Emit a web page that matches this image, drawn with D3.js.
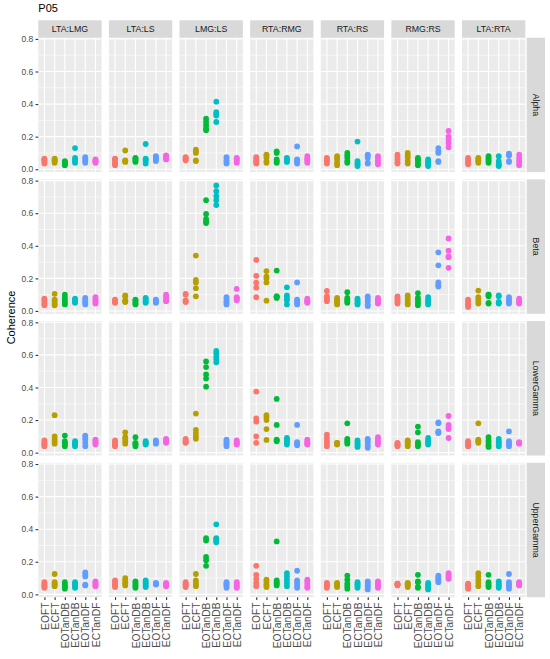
<!DOCTYPE html>
<html>
<head>
<meta charset="utf-8">
<script src="https://cdn.jsdelivr.net/npm/d3@7"></script>
<style>
  body { margin: 0; background: #fff; }
  svg { display: block; font-family: "Liberation Sans", Arial, sans-serif; }
</style>
</head>
<body>
<div id="chart"></div>
<script>
const categories = ["EOFT", "ECFT", "EOTanDB", "ECTanDB", "EOTanDF", "ECTanDF"];
const pairs = ["LTA:LMG", "LTA:LS", "LMG:LS", "RTA:RMG", "RTA:RS", "RMG:RS", "LTA:RTA"];
const bands = ["Alpha", "Beta", "LowerGamma", "UpperGamma"];
const yTicks = [0, 0.2, 0.4, 0.6, 0.8];

// one entry per pair, inside it one list of trial values per category
const alpha = [
  [[0.035, 0.045, 0.055, 0.06, 0.065], [0.04, 0.05, 0.055, 0.06, 0.065], [0.025, 0.03, 0.04, 0.045, 0.05], [0.04, 0.05, 0.06, 0.07, 0.13], [0.04, 0.05, 0.06, 0.07, 0.075], [0.04, 0.045, 0.05, 0.055, 0.06]],
  [[0.025, 0.035, 0.045, 0.06, 0.065], [0.045, 0.05, 0.05, 0.055, 0.115], [0.045, 0.05, 0.06, 0.065, 0.07], [0.035, 0.05, 0.06, 0.065, 0.155], [0.05, 0.06, 0.07, 0.075, 0.08], [0.06, 0.065, 0.07, 0.08, 0.085]],
  [[0.055, 0.06, 0.065, 0.07, 0.075], [0.05, 0.055, 0.1, 0.11, 0.12], [0.24, 0.25, 0.27, 0.29, 0.31], [0.29, 0.33, 0.34, 0.35, 0.415], [0.035, 0.045, 0.055, 0.07, 0.075], [0.04, 0.05, 0.06, 0.065, 0.07]],
  [[0.035, 0.045, 0.055, 0.065, 0.075], [0.04, 0.05, 0.07, 0.085, 0.09], [0.04, 0.05, 0.06, 0.1, 0.11], [0.045, 0.05, 0.06, 0.065, 0.07], [0.035, 0.045, 0.055, 0.06, 0.14], [0.04, 0.05, 0.06, 0.065, 0.08]],
  [[0.035, 0.045, 0.055, 0.065, 0.07], [0.025, 0.04, 0.06, 0.07, 0.08], [0.04, 0.05, 0.07, 0.085, 0.1], [0.02, 0.03, 0.04, 0.05, 0.17], [0.035, 0.04, 0.07, 0.085, 0.09], [0.03, 0.04, 0.055, 0.07, 0.08]],
  [[0.035, 0.045, 0.06, 0.075, 0.09], [0.035, 0.05, 0.07, 0.085, 0.1], [0.025, 0.035, 0.05, 0.06, 0.07], [0.02, 0.03, 0.04, 0.05, 0.06], [0.045, 0.05, 0.1, 0.11, 0.13], [0.135, 0.16, 0.18, 0.2, 0.235]],
  [[0.03, 0.04, 0.05, 0.06, 0.07], [0.04, 0.05, 0.055, 0.065, 0.07], [0.04, 0.05, 0.06, 0.07, 0.08], [0.02, 0.025, 0.035, 0.05, 0.08], [0.045, 0.05, 0.085, 0.09, 0.095], [0.025, 0.04, 0.055, 0.07, 0.09]],
];

const beta = [
  [[0.035, 0.045, 0.055, 0.065, 0.075], [0.035, 0.045, 0.06, 0.07, 0.105], [0.04, 0.05, 0.065, 0.08, 0.1], [0.05, 0.055, 0.06, 0.07, 0.075], [0.04, 0.05, 0.06, 0.07, 0.08], [0.045, 0.055, 0.065, 0.075, 0.085]],
  [[0.05, 0.055, 0.06, 0.065, 0.07], [0.055, 0.06, 0.065, 0.09, 0.095], [0.04, 0.045, 0.055, 0.065, 0.07], [0.05, 0.055, 0.065, 0.075, 0.08], [0.05, 0.055, 0.06, 0.065, 0.07], [0.06, 0.065, 0.075, 0.09, 0.1]],
  [[0.055, 0.06, 0.065, 0.1, 0.105], [0.09, 0.14, 0.175, 0.19, 0.34], [0.54, 0.55, 0.565, 0.595, 0.68], [0.65, 0.68, 0.705, 0.735, 0.77], [0.04, 0.05, 0.06, 0.075, 0.085], [0.065, 0.075, 0.08, 0.085, 0.135]],
  [[0.084, 0.143, 0.174, 0.215, 0.313], [0.063, 0.175, 0.2, 0.21, 0.245], [0.08, 0.085, 0.09, 0.09, 0.248], [0.04, 0.065, 0.08, 0.095, 0.145], [0.04, 0.05, 0.06, 0.07, 0.175], [0.05, 0.055, 0.06, 0.065, 0.075]],
  [[0.06, 0.07, 0.08, 0.09, 0.123], [0.04, 0.05, 0.06, 0.07, 0.08], [0.05, 0.06, 0.07, 0.08, 0.115], [0.04, 0.045, 0.055, 0.065, 0.075], [0.03, 0.04, 0.06, 0.075, 0.09], [0.045, 0.05, 0.06, 0.07, 0.08]],
  [[0.045, 0.055, 0.065, 0.075, 0.09], [0.04, 0.05, 0.065, 0.08, 0.095], [0.035, 0.05, 0.065, 0.08, 0.11], [0.04, 0.05, 0.06, 0.07, 0.085], [0.15, 0.16, 0.175, 0.28, 0.36], [0.265, 0.33, 0.335, 0.37, 0.445]],
  [[0.025, 0.035, 0.045, 0.06, 0.07], [0.045, 0.06, 0.075, 0.085, 0.125], [0.045, 0.05, 0.09, 0.1, 0.1], [0.045, 0.05, 0.055, 0.09, 0.095], [0.045, 0.055, 0.065, 0.075, 0.085], [0.045, 0.05, 0.06, 0.065, 0.075]],
];

const lowerGamma = [
  [[0.04, 0.05, 0.055, 0.065, 0.075], [0.055, 0.07, 0.085, 0.1, 0.23], [0.04, 0.05, 0.06, 0.07, 0.105], [0.04, 0.05, 0.055, 0.06, 0.07], [0.04, 0.06, 0.08, 0.095, 0.105], [0.05, 0.06, 0.065, 0.075, 0.08]],
  [[0.04, 0.045, 0.055, 0.065, 0.075], [0.055, 0.07, 0.085, 0.095, 0.125], [0.04, 0.05, 0.055, 0.06, 0.095], [0.05, 0.055, 0.06, 0.065, 0.07], [0.055, 0.06, 0.065, 0.07, 0.075], [0.06, 0.065, 0.07, 0.08, 0.085]],
  [[0.06, 0.065, 0.07, 0.075, 0.085], [0.085, 0.1, 0.12, 0.14, 0.24], [0.405, 0.455, 0.48, 0.525, 0.56], [0.555, 0.575, 0.59, 0.61, 0.625], [0.04, 0.05, 0.06, 0.07, 0.08], [0.05, 0.055, 0.06, 0.065, 0.075]],
  [[0.06, 0.1, 0.19, 0.21, 0.375], [0.078, 0.145, 0.2, 0.215, 0.23], [0.07, 0.075, 0.08, 0.17, 0.33], [0.05, 0.06, 0.07, 0.08, 0.09], [0.045, 0.055, 0.06, 0.065, 0.17], [0.05, 0.055, 0.06, 0.07, 0.08]],
  [[0.04, 0.055, 0.07, 0.09, 0.11], [0.05, 0.055, 0.055, 0.06, 0.06], [0.055, 0.065, 0.075, 0.085, 0.18], [0.035, 0.045, 0.055, 0.065, 0.075], [0.03, 0.045, 0.06, 0.075, 0.085], [0.05, 0.06, 0.07, 0.085, 0.095]],
  [[0.04, 0.045, 0.05, 0.055, 0.06], [0.04, 0.05, 0.06, 0.07, 0.075], [0.04, 0.05, 0.065, 0.125, 0.16], [0.05, 0.06, 0.065, 0.075, 0.09], [0.12, 0.125, 0.13, 0.18, 0.185], [0.09, 0.145, 0.155, 0.17, 0.225]],
  [[0.04, 0.045, 0.055, 0.065, 0.07], [0.06, 0.07, 0.075, 0.08, 0.18], [0.035, 0.045, 0.06, 0.075, 0.095], [0.04, 0.05, 0.06, 0.07, 0.085], [0.04, 0.05, 0.06, 0.07, 0.13], [0.055, 0.06, 0.06, 0.06, 0.065]],
];

const upperGamma = [
  [[0.04, 0.05, 0.055, 0.065, 0.075], [0.05, 0.06, 0.065, 0.075, 0.125], [0.035, 0.045, 0.05, 0.06, 0.075], [0.04, 0.045, 0.055, 0.065, 0.075], [0.055, 0.06, 0.11, 0.12, 0.135], [0.05, 0.055, 0.065, 0.07, 0.08]],
  [[0.045, 0.055, 0.065, 0.08, 0.085], [0.055, 0.065, 0.075, 0.09, 0.1], [0.04, 0.05, 0.06, 0.07, 0.08], [0.045, 0.055, 0.065, 0.075, 0.085], [0.06, 0.065, 0.065, 0.065, 0.07], [0.05, 0.055, 0.06, 0.065, 0.07]],
  [[0.045, 0.055, 0.06, 0.065, 0.075], [0.05, 0.06, 0.07, 0.085, 0.125], [0.175, 0.21, 0.23, 0.33, 0.345], [0.32, 0.33, 0.34, 0.345, 0.43], [0.04, 0.05, 0.06, 0.065, 0.075], [0.04, 0.045, 0.055, 0.065, 0.075]],
  [[0.05, 0.07, 0.095, 0.12, 0.175], [0.045, 0.055, 0.065, 0.08, 0.09], [0.055, 0.065, 0.075, 0.085, 0.325], [0.05, 0.07, 0.09, 0.11, 0.13], [0.04, 0.055, 0.07, 0.085, 0.145], [0.04, 0.05, 0.065, 0.08, 0.09]],
  [[0.04, 0.05, 0.055, 0.065, 0.07], [0.045, 0.05, 0.06, 0.065, 0.07], [0.035, 0.05, 0.065, 0.09, 0.115], [0.04, 0.05, 0.06, 0.065, 0.075], [0.03, 0.045, 0.055, 0.07, 0.08], [0.04, 0.05, 0.06, 0.07, 0.08]],
  [[0.055, 0.06, 0.06, 0.065, 0.065], [0.045, 0.055, 0.06, 0.065, 0.07], [0.04, 0.045, 0.075, 0.08, 0.12], [0.03, 0.04, 0.05, 0.06, 0.07], [0.075, 0.085, 0.095, 0.105, 0.115], [0.095, 0.1, 0.11, 0.12, 0.13]],
  [[0.035, 0.045, 0.055, 0.06, 0.065], [0.05, 0.07, 0.09, 0.11, 0.13], [0.045, 0.055, 0.065, 0.075, 0.12], [0.04, 0.05, 0.06, 0.07, 0.08], [0.035, 0.05, 0.06, 0.075, 0.125], [0.055, 0.06, 0.065, 0.07, 0.075]],
];

const bandValues = [alpha, beta, lowerGamma, upperGamma];

const width = 550;
const height = 659;
const area = { left: 38.3, right: 525.3, top: 37.7, bottom: 597.2, gap: 7.3 };
const panelW = (area.right - area.left - area.gap * (pairs.length - 1)) / pairs.length;
const panelH = (area.bottom - area.top - area.gap * (bands.length - 1)) / bands.length;

const points = [];
bandValues.forEach((band, r) => {
  band.forEach((pairVals, c) => {
    pairVals.forEach((vals, k) => {
      vals.forEach((v) => {
        points.push({ band: bands[r], pair: pairs[c], cat: categories[k], value: v });
      });
    });
  });
});

// ggplot-style 5% expansion of the data range
const [lo, hi] = d3.extent(points, (d) => d.value);
const pad = (hi - lo) * 0.05;

const yScale = d3.scaleLinear().domain([lo - pad, hi + pad]).range([panelH, 0]);
const xScale = d3.scalePoint().domain(categories).range([0, panelW]).padding(0.6);
const color = d3
  .scaleOrdinal()
  .domain(categories)
  .range(["#F8766D", "#B79F00", "#00BA38", "#00BFC4", "#619CFF", "#F564E3"]);

const svg = d3
  .select("#chart")
  .append("svg")
  .attr("width", width)
  .attr("height", height);

svg.append("rect").attr("width", width).attr("height", height).attr("fill", "#fff");

svg
  .append("text")
  .attr("x", 38.3)
  .attr("y", 12)
  .attr("fill", "#000")
  .style("font-size", "11px")
  .text("P05");

svg
  .append("text")
  .attr("transform", `translate(11.5,${(area.top + area.bottom) / 2}) rotate(-90)`)
  .attr("text-anchor", "middle")
  .attr("dy", "0.35em")
  .attr("fill", "#000")
  .style("font-size", "11px")
  .text("Coherence");

const minorY = d3.range(0.1, 0.8, 0.2);

bands.forEach((band, r) => {
  pairs.forEach((pair, c) => {
    const px = area.left + c * (panelW + area.gap);
    const py = area.top + r * (panelH + area.gap);
    const g = svg.append("g").attr("transform", `translate(${px},${py})`);

    g.append("rect").attr("width", panelW).attr("height", panelH).attr("fill", "#EBEBEB");

    g.selectAll(".minor")
      .data(minorY)
      .enter()
      .append("line")
      .attr("x1", 0)
      .attr("x2", panelW)
      .attr("y1", (d) => yScale(d))
      .attr("y2", (d) => yScale(d))
      .attr("stroke", "#fff")
      .attr("stroke-width", 0.55);

    g.selectAll(".major")
      .data(yTicks)
      .enter()
      .append("line")
      .attr("x1", 0)
      .attr("x2", panelW)
      .attr("y1", (d) => yScale(d))
      .attr("y2", (d) => yScale(d))
      .attr("stroke", "#fff")
      .attr("stroke-width", 1.1);

    g.selectAll(".vgrid")
      .data(categories)
      .enter()
      .append("line")
      .attr("x1", (d) => xScale(d))
      .attr("x2", (d) => xScale(d))
      .attr("y1", 0)
      .attr("y2", panelH)
      .attr("stroke", "#fff")
      .attr("stroke-width", 1.1);

    g.selectAll("circle")
      .data(points.filter((d) => d.band === band && d.pair === pair))
      .enter()
      .append("circle")
      .attr("cx", (d) => xScale(d.cat))
      .attr("cy", (d) => yScale(d.value))
      .attr("r", 2.9)
      .attr("fill", (d) => color(d.cat));

    if (r === 0) {
      g.append("rect")
        .attr("y", -17.4)
        .attr("width", panelW)
        .attr("height", 17.4)
        .attr("fill", "#D9D9D9");
      g.append("text")
        .attr("x", panelW / 2)
        .attr("y", -8.7)
        .attr("dy", "0.35em")
        .attr("text-anchor", "middle")
        .attr("fill", "#1A1A1A")
        .style("font-size", "8.8px")
        .text(pair);
    }

    if (c === pairs.length - 1) {
      g.append("rect")
        .attr("x", panelW + 1.4)
        .attr("width", 18.3)
        .attr("height", panelH)
        .attr("fill", "#D9D9D9");
      g.append("text")
        .attr("transform", `translate(${panelW + 1.4 + 9.15},${panelH / 2}) rotate(90)`)
        .attr("dy", "0.35em")
        .attr("text-anchor", "middle")
        .attr("fill", "#1A1A1A")
        .style("font-size", "8.8px")
        .text(band);
    }

    if (c === 0) {
      const yAxisG = g
        .append("g")
        .call(d3.axisLeft(yScale).tickValues(yTicks).tickSize(2.75).tickPadding(2.2).tickFormat(d3.format(".1f")));
      yAxisG.select(".domain").remove();
      yAxisG.selectAll("line").attr("stroke", "#333333").attr("stroke-width", 1.1);
      yAxisG
        .selectAll("text")
        .attr("fill", "#4D4D4D")
        .style("font-size", "8.5px")
        .style("font-family", "Liberation Sans, Arial, sans-serif");
    }

    if (r === bands.length - 1) {
      const xAxisG = g
        .append("g")
        .attr("transform", `translate(0,${panelH})`)
        .call(d3.axisBottom(xScale).tickSize(2.75));
      xAxisG.select(".domain").remove();
      xAxisG.selectAll("line").attr("stroke", "#333333").attr("stroke-width", 1.1);
      xAxisG
        .selectAll("text")
        .attr("transform", "rotate(-90)")
        .attr("x", -5.3)
        .attr("y", 0)
        .attr("dy", "0.35em")
        .attr("text-anchor", "end")
        .attr("fill", "#4D4D4D")
        .style("font-size", "10.3px")
        .style("font-family", "Liberation Sans, Arial, sans-serif");
    }
  });
});
</script>
</body>
</html>
